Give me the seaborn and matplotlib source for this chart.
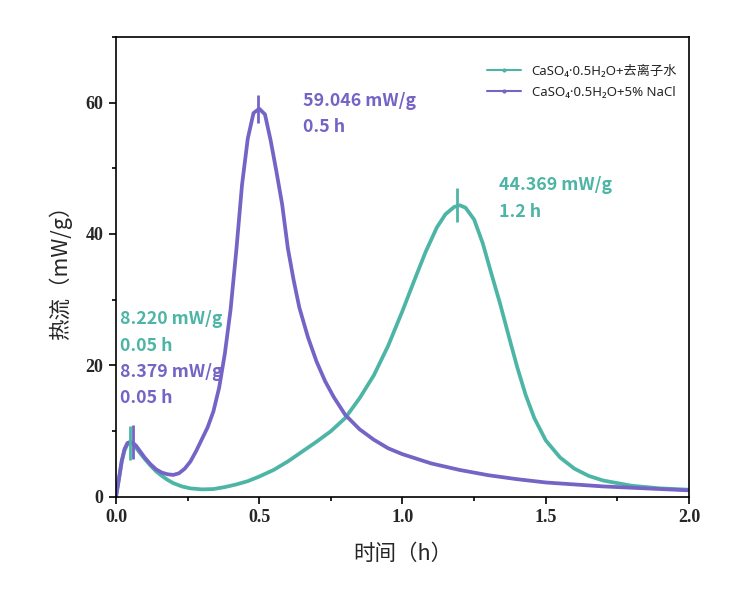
import numpy as np
import pandas as pd
import seaborn as sns
import matplotlib.pyplot as plt
from matplotlib.ticker import MultipleLocator
from matplotlib.lines import Line2D

# CaSO4·0.5H2O + deionized water
t_water = [0.0, 0.01, 0.02, 0.03, 0.04, 0.05, 0.06, 0.07, 0.08, 0.10, 0.12, 0.14, 0.16, 0.18,
           0.20, 0.23, 0.26, 0.30, 0.34, 0.38, 0.42, 0.46, 0.50, 0.55, 0.60, 0.65, 0.70, 0.75,
           0.80, 0.85, 0.90, 0.95, 1.00, 1.04, 1.08, 1.12, 1.15, 1.18, 1.20, 1.22, 1.25, 1.28,
           1.31, 1.34, 1.37, 1.40, 1.43, 1.46, 1.50, 1.55, 1.60, 1.65, 1.70, 1.80, 1.90, 2.00]
q_water = [0.0, 2.6, 5.3, 7.1, 8.0, 8.22, 8.0, 7.5, 6.9, 5.8, 4.8, 3.9, 3.2, 2.6,
           2.1, 1.6, 1.3, 1.15, 1.2, 1.5, 1.9, 2.4, 3.1, 4.1, 5.4, 6.9, 8.4, 10.0,
           12.0, 15.0, 18.5, 23.0, 28.3, 32.8, 37.2, 41.0, 43.0, 44.1, 44.37, 44.0, 42.2, 38.6,
           34.0, 29.5, 24.6, 19.8, 15.5, 12.0, 8.6, 6.0, 4.3, 3.2, 2.5, 1.7, 1.3, 1.1]

# CaSO4·0.5H2O + 5% NaCl
t_nacl = [0.0, 0.01, 0.02, 0.03, 0.04, 0.05, 0.06, 0.07, 0.08, 0.10, 0.12, 0.14, 0.16, 0.18,
          0.20, 0.22, 0.24, 0.26, 0.28, 0.30, 0.32, 0.34, 0.36, 0.38, 0.40, 0.42, 0.44, 0.46,
          0.48, 0.50, 0.52, 0.54, 0.56, 0.58, 0.60, 0.62, 0.64, 0.67, 0.70, 0.73, 0.76, 0.80,
          0.85, 0.90, 0.95, 1.00, 1.10, 1.20, 1.30, 1.40, 1.50, 1.60, 1.70, 1.80, 1.90, 2.00]
q_nacl = [0.0, 2.7, 5.5, 7.3, 8.2, 8.38, 8.2, 7.8, 7.2, 6.0, 5.0, 4.2, 3.7, 3.45,
          3.35, 3.6, 4.3, 5.4, 7.0, 8.8, 10.6, 13.0, 16.6, 21.8, 28.5, 37.5, 47.5, 54.5,
          58.4, 59.05, 58.2, 54.2, 49.5, 44.5, 37.8, 33.0, 28.8, 24.3, 20.6, 17.6, 15.2, 12.5,
          10.3, 8.7, 7.4, 6.5, 5.1, 4.1, 3.3, 2.7, 2.2, 1.9, 1.6, 1.4, 1.2, 1.0]

labels = ["CaSO₄·0.5H₂O+去离子水", "CaSO₄·0.5H₂O+5% NaCl"]
colors = ["#4DB5A6", "#7563C6"]

# peak positions (time, value) marked with a short vertical tick
peaks_water = [(0.05, 8.220), (1.19, 44.369)]
peaks_nacl = [(0.058, 8.379), (0.495, 59.046)]

df = pd.concat([
    pd.DataFrame({"t": t_water, "q": q_water, "s": labels[0]}),
    pd.DataFrame({"t": t_nacl, "q": q_nacl, "s": labels[1]}),
])

sns.set_style("ticks")
plt.rcParams["font.family"] = ["Noto Sans", "Noto Sans CJK SC", "DejaVu Sans"]

fig = plt.figure(figsize=(7.55, 5.93), dpi=100)
ax = fig.add_axes([0.1536, 0.162, 0.759, 0.776])

sns.lineplot(data=df, x="t", y="q", hue="s", palette=dict(zip(labels, colors)),
             linewidth=2.7, ax=ax, legend=False, sort=False)

for (pk, c) in [(peaks_water, colors[0]), (peaks_nacl, colors[1])]:
    for x, y in pk:
        ms = 20 if y > 50 else 24
        ax.plot([x], [y], marker="|", markersize=ms, markeredgewidth=2, color=c)

tfont = dict(fontsize=12.8, fontweight="bold", va="center", family=["Noto Sans CJK SC"])
ax.text(0.014, 27.0, "8.220 mW/g", color=colors[0], **tfont)
ax.text(0.014, 23.0, "0.05 h", color=colors[0], **tfont)
ax.text(0.014, 19.0, "8.379 mW/g", color=colors[1], **tfont)
ax.text(0.014, 15.1, "0.05 h", color=colors[1], **tfont)
ax.text(0.653, 60.3, "59.046 mW/g", color=colors[1], **tfont)
ax.text(0.653, 56.2, "0.5 h", color=colors[1], **tfont)
ax.text(1.337, 47.4, "44.369 mW/g", color=colors[0], **tfont)
ax.text(1.337, 43.3, "1.2 h", color=colors[0], **tfont)

ax.set_xlim(0, 2.0)
ax.set_ylim(0, 70)
ax.xaxis.set_minor_locator(MultipleLocator(0.25))
ax.yaxis.set_minor_locator(MultipleLocator(10))
ax.set_xticks([0, 0.5, 1.0, 1.5, 2.0])
ax.set_xticklabels(["0.0", "0.5", "1.0", "1.5", "2.0"])
ax.set_yticks([0, 20, 40, 60])
ax.set_yticklabels(["0", "20", "40", "60"])
for lab in ax.get_xticklabels() + ax.get_yticklabels():
    lab.set_family("Liberation Serif")
    lab.set_fontweight("bold")
    lab.set_fontsize(13)
ax.tick_params(which="major", direction="out", length=5, width=1.2, color="black", pad=4)
ax.tick_params(which="minor", direction="out", length=3, width=1.2, color="black")
for sp in ax.spines.values():
    sp.set_visible(True)
    sp.set_color("black")
    sp.set_linewidth(1.2)

ax.set_xlabel("时间（h）", fontsize=15.5, labelpad=12, family=["Noto Sans CJK SC"])
ax.set_ylabel("热流（mW/g）", fontsize=15.5, labelpad=10, family=["Noto Sans CJK SC"])

handles = [Line2D([], [], color=c, linewidth=1.5, marker="o", markersize=2) for c in colors]
ax.legend(handles, labels, loc="upper right", frameon=False, fontsize=9.5,
          handlelength=2.6, labelspacing=0.6, bbox_to_anchor=(1.0, 0.965))

fig.savefig("out.png", dpi=100)
